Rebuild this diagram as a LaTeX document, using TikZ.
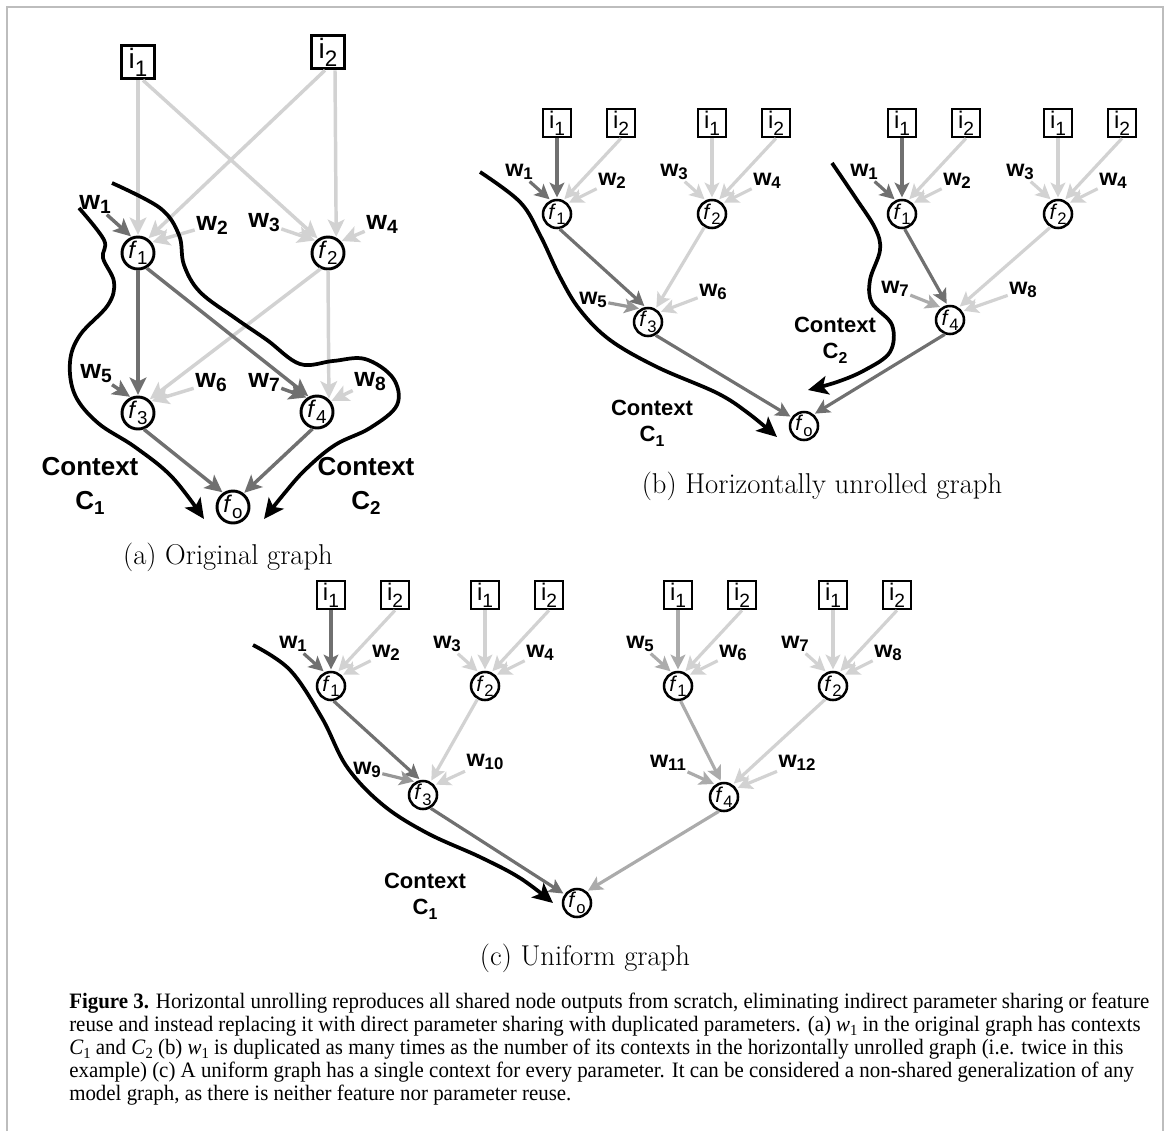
\documentclass[tikz,border=0pt]{standalone}
\usepackage{fontspec}
\usepackage{graphicx}
\usetikzlibrary{arrows.meta,calc}
\newfontfamily\lsans{Liberation Sans}
\newfontfamily\capserif{Liberation Serif}
\definecolor{dk}{HTML}{707070}
\definecolor{md}{HTML}{979797}
\definecolor{ml}{HTML}{ABABAB}
\definecolor{lt}{HTML}{D2D2D2}
\definecolor{framec}{HTML}{BDBDBD}
\newcommand\lo[2][0.72]{\raisebox{-0.2em}{\scalebox{#1}{#2}}}
\newcommand\isym[1]{i\raisebox{-0.28em}{\scalebox{0.8}{#1}}}
\newcommand\fsym[1]{\textit{f}\raisebox{-0.25em}{\scalebox{0.78}{#1}}}
\newcommand\wsym[1]{w\raisebox{-0.15em}{\scalebox{0.72}{#1}}}
\newcommand\cw{\textit{w}\lo[0.7]{1}}
\newcommand\cC[1]{\textit{C}\lo[0.7]{#1}}
\newcommand\capfontsel{\capserif\fontsize{16.5}{16.5}\selectfont}
\newcommand\capA{\textbf{Figure 3.} Horizontal unrolling reproduces all shared node outputs from scratch, eliminating indirect parameter sharing or feature}
\newcommand\capB{reuse and instead replacing it with direct parameter sharing with duplicated parameters. (a) \cw\ in the original graph has contexts}
\newcommand\capC{\cC{1} and \cC{2} (b) \cw\ is duplicated as many times as the number of its contexts in the horizontally unrolled graph (i.e. twice in this}
\newcommand\capD{example) (c) A uniform graph has a single context for every parameter. It can be considered a non-shared generalization of any}
\newcommand\capE{model graph, as there is neither feature nor parameter reuse.}
\newlength\capw
\tikzset{
 ibox/.style={draw=black, line width=2pt, minimum size=21pt, inner sep=0pt, font=\lsans\fontsize{18}{18}\selectfont},
 iboxA/.style={ibox, line width=2.4pt, minimum size=25pt, font=\lsans\fontsize{21}{21}\selectfont},
 fnode/.style={draw=black, circle, line width=1.9pt, minimum size=21pt, inner sep=0pt, font=\lsans\fontsize{16}{16}\selectfont},
 fnodeA/.style={fnode, line width=2.2pt, minimum size=24pt, font=\lsans\fontsize{18}{18}\selectfont},
 wlab/.style={inner sep=1pt, font=\lsans\bfseries\fontsize{17.5}{17.5}\selectfont},
 wlabA/.style={wlab, font=\lsans\bfseries\fontsize{20}{20}\selectfont},
 ctx/.style={align=center, inner sep=0pt, font=\lsans\bfseries\fontsize{16.5}{20}\selectfont},
 ctxA/.style={align=center, inner sep=0pt, font=\lsans\bfseries\fontsize{19.5}{25.5}\selectfont},
 ar/.style={line width=2.4pt, -{Stealth[length=11pt,width=11pt,inset=2.5pt]}, shorten >=1pt},
 arA/.style={line width=2.6pt, -{Stealth[length=13pt,width=12.5pt,inset=3pt]}, shorten >=0.5pt},
 cont/.style={line width=2.8pt, -{Stealth[length=15pt,width=14pt,inset=3.5pt]}},
 subcap/.style={inner sep=0pt, font=\fontsize{21.5}{22}\selectfont},
 capline/.style={anchor=base west, inner sep=0pt},
}
\newcommand\treeunit[6]{%
 \node[fnode] (#1f) at (#2) {\fsym{#3}};
 \node[ibox] (#1a) at ($(#2)+(0,-91)$) {\isym{1}};
 \node[ibox] (#1b) at ($(#2)+(64,-91)$) {\isym{2}};
 \node[wlab] (#1l) at ($(#2)+(-38,-42)$) {\wsym{#4}};
 \node[wlab] (#1r) at ($(#2)+(55,-33)$) {\wsym{#5}};
 \draw[ar,lt] (#1b.south) -- (#1f.65);
 \draw[ar,lt] (#1r) -- (#1f.45);
 \draw[ar,#6] (#1a.south) -- (#1f.north);
 \draw[ar,#6] (#1l) -- (#1f.115);
}
\begin{document}
\settowidth{\capw}{\capfontsel\capA}%
\pgfmathsetmacro\capfac{810/\capw}%
\begin{tikzpicture}[x=0.75pt,y=-0.75pt]
\useasboundingbox (0,0) rectangle (1170,1131);
\draw[framec, line width=1.6pt] (7,1131) -- (7,7) -- (1163,7) -- (1163,1131);

% ---------------- (a) original graph
\node[iboxA] (aI1) at (138,62) {\isym{1}};
\node[iboxA] (aI2) at (328,52) {\isym{2}};
\node[fnodeA] (aF1) at (138,253) {\fsym{1}};
\node[fnodeA] (aF2) at (328,253) {\fsym{2}};
\node[fnodeA] (aF3) at (138,413) {\fsym{3}};
\node[fnodeA] (aF4) at (317,412) {\fsym{4}};
\node[fnodeA] (aFo) at (233,507) {\fsym{o}};
\node[wlabA] (aW1) at (95,204) {\wsym{1}};
\node[wlabA] (aW2) at (212,225) {\wsym{2}};
\node[wlabA] (aW3) at (264,223) {\wsym{3}};
\node[wlabA] (aW4) at (382,224) {\wsym{4}};
\node[wlabA] (aW5) at (96,374) {\wsym{5}};
\node[wlabA] (aW6) at (211,383) {\wsym{6}};
\node[wlabA] (aW7) at (264,382) {\wsym{7}};
\node[wlabA] (aW8) at (370,382) {\wsym{8}};
\node[ctxA] (aC1) at (90,486) {Context\\C\lo{1}};
\node[ctxA] (aC2) at (366,486) {Context\\C\lo{2}};
\node[subcap] (aCap) at (228,557) {(a) Original graph};

\draw[arA,lt] (aI1.south) -- (aF1.north);
\draw[arA,lt] ($(aI1.south)+(5,0)$) -- (aF2.125);
\draw[arA,lt] ($(aI2.south)+(-3,0)$) -- (aF1.55);
\draw[arA,lt] ($(aI2.south)+(7,0)$) -- (aF2.62);
\draw[arA,lt] (aW2) -- (aF1.38);
\draw[arA,lt] (aW3) -- (aF2.135);
\draw[arA,lt] (aW4) -- (aF2.42);
\draw[arA,lt] (aF2.-115) -- (aF3.50);
\draw[arA,lt] (aF2.south) -- (aF4.47);
\draw[arA,lt] (aW6) -- (aF3.42);
\draw[arA,lt] (aW8) -- (aF4.38);
\draw[arA,dk] (aW1) -- (aF1.112);
\draw[arA,dk] (aF1.south) -- (aF3.north);
\draw[arA,dk] (aF1.-60) -- (aF4.118);
\draw[arA,dk] (aW5) -- (aF3.115);
\draw[arA,dk] (aW7) -- (aF4.125);
\draw[arA,dk] (aF3.-70) -- (aFo.125);
\draw[arA,dk] (aF4.-105) -- (aFo.52);

\draw[cont] plot[smooth, tension=0.6] coordinates {(79,208) (104,240) (103,258) (114,282) (108,305) (80,335) (70,362) (75,395) (98,423) (135,447) (172,477) (204,519)};
\draw[cont] plot[smooth, tension=0.6] coordinates {(112,183) (160,208) (179,235) (184,265) (200,292) (235,318) (267,340) (300,364) (333,361) (365,359) (393,378) (397,405) (370,428) (335,445) (305,470) (283,495) (264,519)};

% ---------------- (b) horizontally unrolled
\treeunit{bA}{557,214}{1}{1}{2}{dk}
\treeunit{bB}{712,214}{2}{3}{4}{lt}
\treeunit{bC}{902,214}{1}{1}{2}{dk}
\treeunit{bD}{1058,214}{2}{3}{4}{lt}
\node[fnode] (bF3) at (648,322) {\fsym{3}};
\node[fnode] (bF4) at (950,320) {\fsym{4}};
\node[fnode] (bFo) at (804,426) {\fsym{o}};
\node[wlab] (bW5) at (593,300) {\wsym{5}};
\node[wlab] (bW6) at (713,292) {\wsym{6}};
\node[wlab] (bW7) at (895,289) {\wsym{7}};
\node[wlab] (bW8) at (1023,290) {\wsym{8}};
\node[ctx] (bC1) at (652,423) {Context\\C\lo{1}};
\node[ctx] (bC2) at (835,340) {Context\\C\lo{2}};
\node[subcap] (bCap) at (822,486) {(b) Horizontally unrolled graph};

\draw[ar,lt] (bBf.-120) -- (bF3.60);
\draw[ar,lt] (bW6) -- (bF3.40);
\draw[ar,dk] (bAf.-80) -- (bF3.100);
\draw[ar,md] (bW5) -- (bF3.120);
\draw[ar,dk] (bF3.-60) -- (bFo.145);
\draw[ar,lt] (bDf.-120) -- (bF4.55);
\draw[ar,lt] (bW8) -- (bF4.35);
\draw[ar,dk] (bCf.-80) -- (bF4.100);
\draw[ar,ml] (bW7) -- (bF4.125);
\draw[ar,dk] (bF4.-110) -- (bFo.50);

\draw[cont] plot[smooth, tension=0.6] coordinates {(480,172) (520,202) (540,235) (560,277) (580,310) (610,340) (657,367) (717,393) (748,413) (777,437)};
\draw[cont] plot[smooth, tension=0.6] coordinates {(832,163) (855,197) (875,228) (880,250) (870,280) (872,303) (892,325) (890,352) (865,370) (837,382) (808,390)};

% ---------------- (c) uniform graph
\treeunit{cA}{331,686}{1}{1}{2}{dk}
\treeunit{cB}{485,686}{2}{3}{4}{lt}
\treeunit{cC}{678,686}{1}{5}{6}{ml}
\treeunit{cD}{833,686}{2}{7}{8}{lt}
\node[fnode] (cF3) at (423,795) {\fsym{3}};
\node[fnode] (cF4) at (724,797) {\fsym{4}};
\node[fnode] (cFo) at (577,903) {\fsym{o}};
\node[wlab] (cW9) at (367,770) {\wsym{9}};
\node[wlab] (cW10) at (485,762) {\wsym{10}};
\node[wlab] (cW11) at (668,763) {\wsym{11}};
\node[wlab] (cW12) at (797,763) {\wsym{12}};
\node[ctx] (cC1) at (425,896) {Context\\C\lo{1}};
\node[subcap] (cCap) at (585,958) {(c) Uniform graph};

\draw[ar,lt] (cBf.-120) -- (cF3.60);
\draw[ar,lt] (cW10) -- (cF3.40);
\draw[ar,dk] (cAf.-80) -- (cF3.100);
\draw[ar,md] (cW9) -- (cF3.120);
\draw[ar,dk] (cF3.-60) -- (cFo.145);
\draw[ar,lt] (cDf.-120) -- (cF4.55);
\draw[ar,lt] (cW12) -- (cF4.35);
\draw[ar,ml] (cCf.-80) -- (cF4.100);
\draw[ar,ml] (cW11) -- (cF4.125);
\draw[ar,ml] (cF4.-110) -- (cFo.50);

\draw[cont] plot[smooth, tension=0.6] coordinates {(253,645) (290,670) (322,718) (347,767) (383,805) (427,833) (480,857) (520,878) (553,903)};

% ---------------- caption
\node[capline] (cap1) at (69,1008) {\scalebox{\capfac}[1]{\capfontsel\capA}};
\node[capline] (cap2) at (69,1031) {\scalebox{\capfac}[1]{\capfontsel\capB}};
\node[capline] (cap3) at (69,1054) {\scalebox{\capfac}[1]{\capfontsel\capC}};
\node[capline] (cap4) at (69,1077) {\scalebox{\capfac}[1]{\capfontsel\capD}};
\node[capline] (cap5) at (69,1100) {\scalebox{\capfac}[1]{\capfontsel\capE}};
\end{tikzpicture}
\end{document}
